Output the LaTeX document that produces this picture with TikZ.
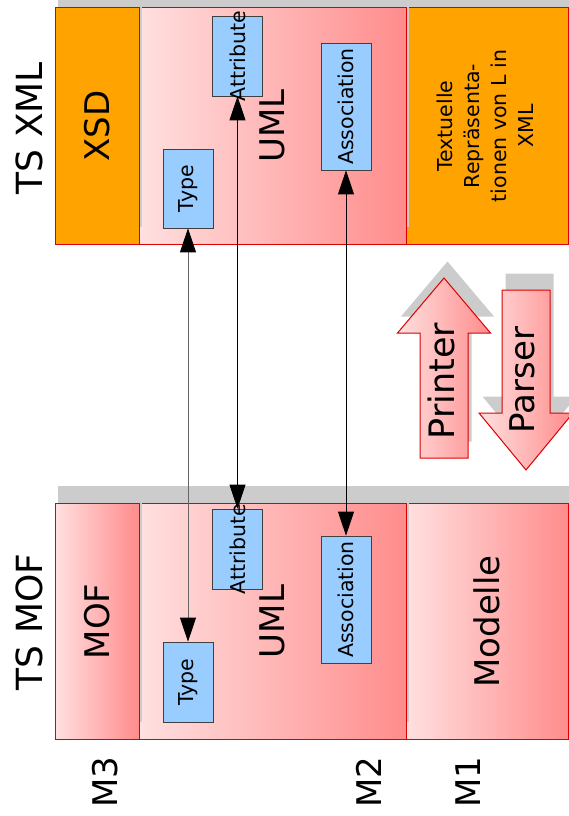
\documentclass[tikz,border=0pt]{standalone}
\usepackage{fontspec}
\setmainfont{DejaVu Sans}
\usepackage{graphicx}
\usepackage{xcolor}
\usepackage{tikz}
\usetikzlibrary{arrows.meta}
\definecolor{layerorange}{RGB}{255,163,0}
\definecolor{pinklight}{RGB}{255,224,224}
\definecolor{pinkdark}{RGB}{255,140,140}
\definecolor{elemblue}{RGB}{153,204,255}
\definecolor{shadowgray}{RGB}{204,204,204}
\definecolor{borderred}{RGB}{220,0,0}

\begin{document}
\begin{tikzpicture}[x=1pt, y=-1pt,
    layer/.style={draw=borderred, line width=1pt, inner sep=0pt, minimum height=236pt, font=\fontsize{34}{40}\selectfont},
    xmllayer/.style={layer, fill=layerorange},
    pinklayer/.style={layer, left color=pinklight, right color=pinkdark},
    elem/.style={draw=black!75, fill=elemblue, line width=0.7pt, inner sep=0pt, minimum width=50pt, font=\fontsize{20.5}{24}\selectfont},
    side/.style={font=\fontsize{36}{40}\selectfont},
    level/.style={font=\fontsize{34}{38}\selectfont},
    link/.style={line width=0.8pt, >={Triangle[length=24pt,width=16pt]}, <->}]
        \useasboundingbox (0,0) rectangle (569,816);

        % TS XML
        \fill[shadowgray] (409,-9) rectangle (572,227);
        \node[xmllayer, minimum width=162.5pt, font=\fontsize{20.5}{27}\selectfont] (txtX) at (487.25,126) {\rotatebox{90}{\begin{tabular}{@{}c@{}}Textuelle\\Repräsenta-\\tionen von L in\\XML\end{tabular}}};
        \fill[shadowgray] (142,-9) rectangle (409,227);
        \node[pinklayer, minimum width=267pt] (umlX) at (272.5,126) {\rotatebox{90}{UML}};
        \fill[shadowgray] (58,-9) rectangle (142,227);
        \node[xmllayer, minimum width=84pt] (xsd) at (97,126) {\rotatebox{90}{XSD}};
        \node[side] (tsxml) at (29,128) {\rotatebox{90}{TS XML}};

        \node[elem, minimum height=79pt] (typeX) at (188,188.5) {\rotatebox{90}{Type}};
        \node[elem, minimum height=80pt] (attrX) at (237.5,56) {\rotatebox{90}{\makebox[0pt]{Attribute}}};
        \node[elem, minimum height=127pt] (assocX) at (346,106.5) {\rotatebox{90}{Association}};

        % TS MOF
        \fill[shadowgray] (409,486) rectangle (572,722);
        \node[pinklayer, minimum width=162.5pt] (mod) at (487.25,621.5) {\rotatebox{90}{Modelle}};
        \fill[shadowgray] (142,486) rectangle (409,722);
        \node[pinklayer, minimum width=267pt] (umlM) at (272.5,621.5) {\rotatebox{90}{UML}};
        \fill[shadowgray] (58,486) rectangle (142,722);
        \node[pinklayer, minimum width=84pt] (mof) at (97,621.5) {\rotatebox{90}{MOF}};
        \node[side] (tsmof) at (29,622) {\rotatebox{90}{TS MOF}};

        \node[elem, minimum height=80pt] (typeM) at (188,682) {\rotatebox{90}{Type}};
        \node[elem, minimum height=80pt] (attrM) at (237.5,549) {\rotatebox{90}{\makebox[0pt]{Attribute}}};
        \node[elem, minimum height=127pt] (assocM) at (346,599.5) {\rotatebox{90}{Association}};

        \draw[link, black!60, >={Triangle[length=24pt,width=16pt,color=black]}] (typeM.north) -- (typeX.south);
        \draw[link] (attrM.north) -- (attrX.south);
        \draw[link] (assocM.north) -- (assocX.south);

        % Printer / Parser
        \fill[shadowgray, xshift=3.5pt, yshift=16.5pt] (444,278) -- (490.5,333) -- (468,333) -- (468,458) -- (420,458) -- (420,333) -- (397.5,333) -- cycle;
        \fill[shadowgray, xshift=3.5pt, yshift=16.5pt] (502,290) -- (550,290) -- (550,413) -- (573,413) -- (526,470) -- (479,413) -- (502,413) -- cycle;
        \draw[borderred, line width=1pt, left color=pinklight, right color=pinkdark] (444,278) -- (490.5,333) -- (468,333) -- (468,458) -- (420,458) -- (420,333) -- (397.5,333) -- cycle;
        \draw[borderred, line width=1pt, left color=pinklight, right color=pinkdark] (502,290) -- (550,290) -- (550,413) -- (573,413) -- (526,470) -- (479,413) -- (502,413) -- cycle;
        \node[font=\fontsize{35}{40}\selectfont] (printer) at (441,381) {\rotatebox{90}{Printer}};
        \node[font=\fontsize{34}{40}\selectfont] (parser) at (522,380) {\rotatebox{90}{Parser}};

        \node[level] (mthree) at (105,782) {\rotatebox{90}{M3}};
        \node[level] (mtwo) at (369,782) {\rotatebox{90}{M2}};
        \node[level] (mone) at (468,782) {\rotatebox{90}{M1}};
    \end{tikzpicture}
\end{document}
